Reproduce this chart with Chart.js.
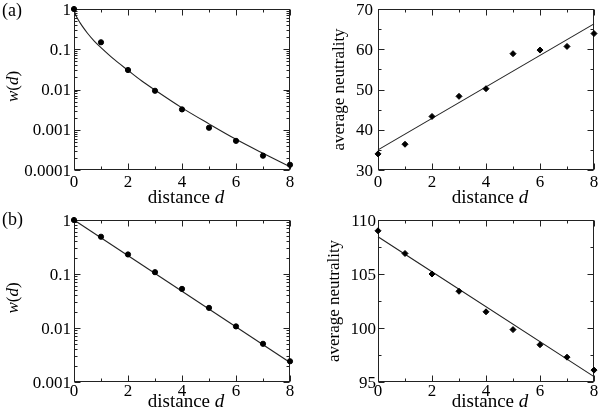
<!DOCTYPE html>
<html>
<head>
<meta charset="utf-8">
<script src="https://cdn.jsdelivr.net/npm/chart.js@4.4.0/dist/chart.umd.min.js"></script>
<style>
  body { margin: 0; background: #fff; }
  #wrap { position: relative; width: 600px; height: 418px; }
  canvas { position: absolute; }
</style>
</head>
<body>
<div id="wrap">
  <canvas id="c1" width="300" height="209" style="left:0;top:0"></canvas>
  <canvas id="c2" width="300" height="209" style="left:300px;top:0"></canvas>
  <canvas id="c3" width="300" height="209" style="left:0;top:209px"></canvas>
  <canvas id="c4" width="300" height="209" style="left:300px;top:209px"></canvas>
</div>
<script>
// values
const distance = [0, 1, 2, 3, 4, 5, 6, 7, 8];
const fitEnds = [0, 8];

// (a) left: w(d), log scale
const wA = [1, 0.149, 0.0305, 0.0093, 0.0032, 0.00112, 0.00053, 0.000227, 0.000135];
const fitDistA = [0, 0.05, 0.1, 0.2, 0.3, 0.5, 0.75, 1, 1.5, 2, 2.5, 3, 4, 5, 6, 7, 8];
const fitWA = [1, 0.75, 0.63, 0.48, 0.38, 0.25, 0.16, 0.11, 0.055, 0.03, 0.0165, 0.0097, 0.0035, 0.0014, 0.00058, 0.00026, 0.00012];

// (a) right: average neutrality
const neutralA = [34.0, 36.4, 43.3, 48.3, 50.2, 58.9, 59.8, 60.7, 63.9];
const fitNeutralA = [35.0, 66.3];

// (b) left: w(d), log scale
const wB = [1, 0.49, 0.23, 0.108, 0.053, 0.0236, 0.0107, 0.0051, 0.00242];
const fitWB = [1, 0.0023];

// (b) right: average neutrality
const neutralB = [109.0, 106.9, 105.0, 103.4, 101.5, 99.85, 98.45, 97.3, 96.1];
const fitNeutralB = [108.45, 95.5];

// ticks
const xTicks = [0, 2, 4, 6, 8];
const xMinor = [1, 3, 5, 7];
const wTicksA = [0.0001, 0.001, 0.01, 0.1, 1];
const wTicksB = [0.001, 0.01, 0.1, 1];
const neutralTicksA = [30, 40, 50, 60, 70];
const neutralMinorA = [35, 45, 55, 65];
const neutralTicksB = [95, 100, 105, 110];
const neutralMinorB = [97.5, 102.5, 107.5];

const SERIF = '"Liberation Serif", "DejaVu Serif", serif';

function pairs(xs, ys) {
  return xs.map((x, i) => ({ x: x, y: ys[i] }));
}

function logMinors(decades) {
  const out = [];
  for (let i = 0; i < decades.length - 1; i++) {
    for (let k = 2; k <= 9; k++) out.push(decades[i] * k);
  }
  return out;
}

// draws text made of [text, italic] pieces, centred on (cx, baseline cy)
function drawRich(ctx, segs, size, cx, cy, rotate) {
  ctx.save();
  ctx.translate(cx, cy);
  if (rotate) ctx.rotate(-Math.PI / 2);
  const fonts = segs.map(s => (s[1] ? 'italic ' : '') + size + 'px ' + SERIF);
  const widths = segs.map((s, i) => { ctx.font = fonts[i]; return ctx.measureText(s[0]).width; });
  let x = -widths.reduce((p, c) => p + c, 0) / 2;
  ctx.fillStyle = '#000';
  ctx.textAlign = 'left';
  ctx.textBaseline = 'alphabetic';
  segs.forEach((s, i) => {
    ctx.font = fonts[i];
    ctx.fillText(s[0], x, 0);
    x += widths[i];
  });
  ctx.restore();
}

// frame, inside ticks on all four sides, tick labels and axis titles
const framePlugin = {
  id: 'frame',
  beforeDatasetsDraw(chart, args, opts) {
    const { ctx, chartArea: a, scales } = chart;
    const l = Math.round(a.left) + 0.5, r = Math.round(a.right) - 0.5;
    const t = Math.round(a.top) + 0.5, b = Math.round(a.bottom) - 0.5;
    ctx.save();
    ctx.strokeStyle = '#222';
    ctx.lineWidth = 1;
    ctx.strokeRect(l, t, r - l, b - t);
    ctx.beginPath();
    const tickX = (vals, len) => {
      vals.forEach(v => {
        const px = Math.round(scales.x.getPixelForValue(v)) + 0.5;
        ctx.moveTo(px, b); ctx.lineTo(px, b - len);
        ctx.moveTo(px, t); ctx.lineTo(px, t + len);
      });
    };
    const tickY = (vals, len) => {
      vals.forEach(v => {
        const py = Math.round(scales.y.getPixelForValue(v)) + 0.5;
        ctx.moveTo(l, py); ctx.lineTo(l + len, py);
        ctx.moveTo(r, py); ctx.lineTo(r - len, py);
      });
    };
    tickX(opts.xMajor, 6);
    tickX(opts.xMinor, 3);
    tickY(opts.yMajor, 6);
    tickY(opts.yMinor, 3);
    ctx.stroke();

    // tick labels
    ctx.fillStyle = '#000';
    ctx.font = '17px ' + SERIF;
    ctx.textBaseline = 'alphabetic';
    ctx.textAlign = 'center';
    opts.xMajor.forEach(v => {
      ctx.fillText(String(v), scales.x.getPixelForValue(v), a.bottom + opts.xLabelDrop);
    });
    ctx.textAlign = 'right';
    opts.yMajor.forEach(v => {
      ctx.fillText(String(v), a.left - opts.yLabelPad, scales.y.getPixelForValue(v) + 5.5);
    });
    ctx.restore();
  },
  afterDraw(chart, args, opts) {
    const { ctx, chartArea: a } = chart;
    const cx = (a.left + a.right) / 2;
    const cy = (a.top + a.bottom) / 2;
    drawRich(ctx, [['distance ', false], ['d', true]], 19, cx + 4, opts.xTitleY, false);
    drawRich(ctx, opts.yTitle, 17, opts.yTitleX, cy + opts.yTitleShift, true);
    if (opts.panel) {
      ctx.save();
      ctx.font = '18px ' + SERIF;
      ctx.fillStyle = '#000';
      ctx.textAlign = 'left';
      ctx.fillText(opts.panel, 2, opts.panelY);
      ctx.restore();
    }
  }
};

function makePanel(id, p) {
  new Chart(document.getElementById(id), {
    type: 'scatter',
    data: {
      datasets: [
        {
          data: pairs(distance, p.values),
          showLine: false,
          pointStyle: p.pointStyle,
          pointRadius: p.pointRadius,
          pointBackgroundColor: '#000',
          pointBorderColor: '#000',
          pointBorderWidth: 1,
          clip: false
        },
        {
          data: pairs(p.fitX, p.fitY),
          showLine: true,
          pointRadius: 0,
          borderColor: '#222',
          borderWidth: 1.1,
          fill: false,
          cubicInterpolationMode: 'monotone',
          clip: false
        }
      ]
    },
    options: {
      responsive: false,
      animation: false,
      events: [],
      layout: { padding: { left: 0, right: p.padRight, top: p.padTop, bottom: 0 } },
      plugins: {
        legend: { display: false },
        tooltip: { enabled: false },
        frame: {
          xMajor: xTicks, xMinor: xMinor,
          yMajor: p.yTicks, yMinor: p.yMinor,
          xLabelDrop: p.xLabelDrop, yLabelPad: p.yPad,
          xTitleY: p.xTitleY,
          yTitle: p.yTitle, yTitleX: p.yTitleX, yTitleShift: p.yTitleShift,
          panel: p.panel, panelY: p.panelY
        }
      },
      scales: {
        x: {
          type: 'linear', min: 0, max: 8,
          afterBuildTicks: s => { s.ticks = xTicks.map(v => ({ value: v })); },
          ticks: { display: false },
          grid: { display: false, drawTicks: false },
          border: { display: false },
          afterFit: s => { s.height = p.xHeight; }
        },
        y: {
          type: p.yType, min: p.yMin, max: p.yMax,
          afterBuildTicks: s => { s.ticks = p.yTicks.map(v => ({ value: v })); },
          ticks: { display: false },
          grid: { display: false, drawTicks: false },
          border: { display: false },
          afterFit: s => { s.width = p.yWidth; }
        }
      }
    },
    plugins: [framePlugin]
  });
}

const wTitle = [['w', true], ['(', false], ['d', true], [')', false]];
const nTitle = [['average neutrality', false]];

makePanel('c1', {
  values: wA, fitX: fitDistA, fitY: fitWA,
  pointStyle: 'circle', pointRadius: 2.6,
  yType: 'logarithmic', yMin: 0.0001, yMax: 1, yTicks: wTicksA, yMinor: logMinors(wTicksA),
  yWidth: 74, yPad: 3, padRight: 10, padTop: 9, xHeight: 39, xLabelDrop: 17, xTitleY: 203,
  yTitle: wTitle, yTitleX: 18, yTitleShift: -3, panel: '(a)', panelY: 16
});
makePanel('c2', {
  values: neutralA, fitX: fitEnds, fitY: fitNeutralA,
  pointStyle: 'rectRot', pointRadius: 3,
  yType: 'linear', yMin: 30, yMax: 70, yTicks: neutralTicksA, yMinor: neutralMinorA,
  yWidth: 78, yPad: 5, padRight: 6, padTop: 9, xHeight: 39, xLabelDrop: 17, xTitleY: 203,
  yTitle: nTitle, yTitleX: 44, yTitleShift: 0
});
makePanel('c3', {
  values: wB, fitX: fitEnds, fitY: fitWB,
  pointStyle: 'circle', pointRadius: 2.6,
  yType: 'logarithmic', yMin: 0.001, yMax: 1, yTicks: wTicksB, yMinor: logMinors(wTicksB),
  yWidth: 74, yPad: 3, padRight: 10, padTop: 11, xHeight: 36, xLabelDrop: 14, xTitleY: 198,
  yTitle: wTitle, yTitleX: 18, yTitleShift: -3, panel: '(b)', panelY: 16
});
makePanel('c4', {
  values: neutralB, fitX: fitEnds, fitY: fitNeutralB,
  pointStyle: 'rectRot', pointRadius: 3,
  yType: 'linear', yMin: 95, yMax: 110, yTicks: neutralTicksB, yMinor: neutralMinorB,
  yWidth: 78, yPad: 2, padRight: 6, padTop: 11, xHeight: 36, xLabelDrop: 14, xTitleY: 198,
  yTitle: nTitle, yTitleX: 39, yTitleShift: 0
});
</script>
</body>
</html>
